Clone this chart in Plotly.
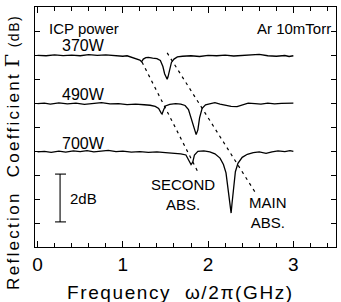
import plotly.graph_objects as go

# ---- data ----
f_370 = [0.00, 0.10, 0.20, 0.30, 0.40, 0.50, 0.60, 0.70, 0.80, 0.90, 1.00, 1.05, 1.10, 1.15, 1.20, 1.22,
         1.24, 1.27, 1.30, 1.35, 1.40, 1.44, 1.47, 1.49, 1.51, 1.52, 1.53, 1.55, 1.57, 1.60, 1.64, 1.70,
         1.80, 1.90, 2.00, 2.10, 2.20, 2.30, 2.40, 2.50, 2.60, 2.70, 2.80, 2.90, 2.95, 3.00]
g_370 = [8.02, 8.00, 8.04, 8.01, 8.03, 8.00, 8.05, 8.02, 8.04, 8.00, 7.98, 8.00, 7.95, 7.90, 7.82, 7.75,
         7.86, 7.92, 7.93, 7.90, 7.88, 7.80, 7.55, 7.25, 7.05, 7.02, 7.12, 7.45, 7.72, 7.86, 7.95, 7.98,
         8.00, 7.97, 8.02, 8.00, 8.03, 7.99, 8.01, 8.02, 8.06, 8.00, 7.98, 8.01, 7.97, 8.00]

f_490 = [0.00, 0.08, 0.15, 0.25, 0.35, 0.45, 0.55, 0.65, 0.75, 0.85, 0.95, 1.05, 1.15, 1.25, 1.32, 1.38,
         1.42, 1.45, 1.46, 1.48, 1.50, 1.55, 1.62, 1.68, 1.73, 1.77, 1.80, 1.83, 1.86, 1.88, 1.90, 1.93,
         1.97, 2.03, 2.08, 2.14, 2.20, 2.27, 2.34, 2.40, 2.47, 2.55, 2.62, 2.70, 2.78, 2.86, 2.93, 3.00]
g_490 = [6.00, 6.02, 5.98, 6.03, 5.99, 6.02, 5.97, 6.01, 6.04, 5.99, 6.00, 5.96, 5.98, 5.95, 5.93, 5.88,
         5.80, 5.60, 5.56, 5.75, 5.90, 5.97, 6.00, 5.98, 5.92, 5.75, 5.40, 4.95, 4.70, 4.90, 5.40, 5.80,
         5.95, 6.00, 6.04, 5.98, 5.93, 5.88, 5.87, 5.95, 6.02, 6.00, 5.98, 6.02, 5.99, 6.01, 6.00, 6.02]

f_700 = [0.00, 0.08, 0.16, 0.25, 0.33, 0.42, 0.50, 0.58, 0.66, 0.75, 0.83, 0.92, 1.00, 1.10, 1.20, 1.30,
         1.40, 1.50, 1.60, 1.68, 1.74, 1.77, 1.80, 1.82, 1.84, 1.88, 1.95, 2.02, 2.08, 2.14, 2.18, 2.21,
         2.23, 2.25, 2.27, 2.28, 2.30, 2.32, 2.35, 2.40, 2.46, 2.53, 2.60, 2.68, 2.75, 2.82, 2.90, 2.96, 3.00]
g_700 = [3.98, 4.00, 3.96, 4.01, 3.97, 4.02, 3.99, 4.03, 3.98, 4.00, 4.04, 3.99, 4.01, 3.97, 3.99, 3.96,
         3.98, 3.95, 3.93, 3.90, 3.85, 3.65, 3.45, 3.55, 3.85, 4.00, 4.02, 3.98, 3.90, 3.72, 3.45, 3.10,
         2.50, 1.90, 1.42, 1.80, 2.60, 3.15, 3.50, 3.75, 3.88, 3.95, 3.98, 3.92, 3.98, 4.02, 3.99, 4.03, 4.00]

# dashed guide lines (second / main absorption)
second_f = [1.225, 1.88]
second_g = [7.74, 3.14]
main_f = [1.52, 2.55]
main_g = [8.12, 2.30]

# 2 dB scale bar
bar_f = [0.264, 0.264]
bar_g = [1.05, 3.05]
cap_f = [0.205, 0.334]

x_ticks = [0, 1, 2, 3]
x_tick_labels = ["0", "1", "2", "3"]

FONT = "Liberation Sans, Arial, sans-serif"
line = dict(color="black", width=1.3)

fig = go.Figure()
for f, g in [(f_370, g_370), (f_490, g_490), (f_700, g_700)]:
    fig.add_trace(go.Scatter(x=f, y=g, mode="lines", line=line, hoverinfo="skip"))
for f, g in [(second_f, second_g), (main_f, main_g)]:
    fig.add_trace(go.Scatter(x=f, y=g, mode="lines",
                             line=dict(color="black", width=1.2, dash="3px,4px"), hoverinfo="skip"))
# scale bar
fig.add_trace(go.Scatter(x=bar_f, y=bar_g, mode="lines", line=dict(color="black", width=1.1)))
for yv in bar_g:
    fig.add_trace(go.Scatter(x=cap_f, y=[yv, yv], mode="lines", line=dict(color="black", width=1.1)))

X0, X1 = -0.03, 3.5

ann = [
    dict(x=0.11, y=9.16, text="ICP power", xanchor="left", size=15),
    dict(x=3.47, y=9.16, text="Ar 10mTorr", xanchor="right", size=15),
    dict(x=0.264, y=8.45, text="370W", xanchor="left", size=16),
    dict(x=0.264, y=6.36, text="490W", xanchor="left", size=16),
    dict(x=0.264, y=4.35, text="700W", xanchor="left", size=16),
    dict(x=0.36, y=2.05, text="2dB", xanchor="left", size=15),
    dict(x=1.705, y=2.2, text="SECOND<br>ABS.", xanchor="center", size=15),
    dict(x=2.70, y=1.45, text="MAIN<br>ABS.", xanchor="center", size=15),
]
annotations = []
for a in ann:
    annotations.append(dict(x=a["x"], y=a["y"], xref="x", yref="y", text=a["text"],
                            xanchor=a["xanchor"], yanchor="middle", showarrow=False,
                            font=dict(family=FONT, size=a["size"], color="black")))
NB = "\u00a0"
# axis titles
annotations.append(dict(xref="paper", yref="paper", x=0, y=0.392, xshift=-23,
                        text="<span style='letter-spacing:2.3px'>Reflection" + NB * 2 + "Coefficient</span>" + NB
                             + "<span style='font-family:DejaVu Serif, serif;font-size:19px;letter-spacing:2px'>Γ</span>" + NB
                             + "<span style='font-size:14px;letter-spacing:1.5px'>(dB)</span>",
                        textangle=-90, showarrow=False, xanchor="center", yanchor="middle",
                        font=dict(family=FONT, size=17, color="black")))
annotations.append(dict(xref="paper", yref="paper", x=(180 - 35) / 301, y=0, yshift=-45,
                        text="<span style='letter-spacing:1.6px'>Frequency" + NB * 2 + "ω/2π(GHz)</span>",
                        showarrow=False, xanchor="center", yanchor="middle",
                        font=dict(family=FONT, size=19, color="black")))

fig.update_layout(
    width=341, height=302,
    margin=dict(l=35, r=5, t=7, b=55),
    paper_bgcolor="white", plot_bgcolor="white",
    showlegend=False,
    annotations=annotations,
    xaxis=dict(range=[X0, X1], tickvals=x_ticks, ticktext=x_tick_labels,
               ticks="inside", ticklen=6, tickwidth=1, tickcolor="black",
               minor=dict(dtick=0.2, tick0=0, ticks="inside", ticklen=4, tickcolor="black"),
               showline=True, linecolor="black", linewidth=1.3, mirror="ticks",
               showgrid=False, zeroline=False,
               tickfont=dict(family=FONT, size=19, color="black")),
    yaxis=dict(range=[0, 10.04], dtick=1, tick0=0, showticklabels=False,
               ticks="inside", ticklen=5, tickwidth=1, tickcolor="black",
               showline=True, linecolor="black", linewidth=1.3, mirror="ticks",
               showgrid=False, zeroline=False),
)

fig.write_html("out.html")
